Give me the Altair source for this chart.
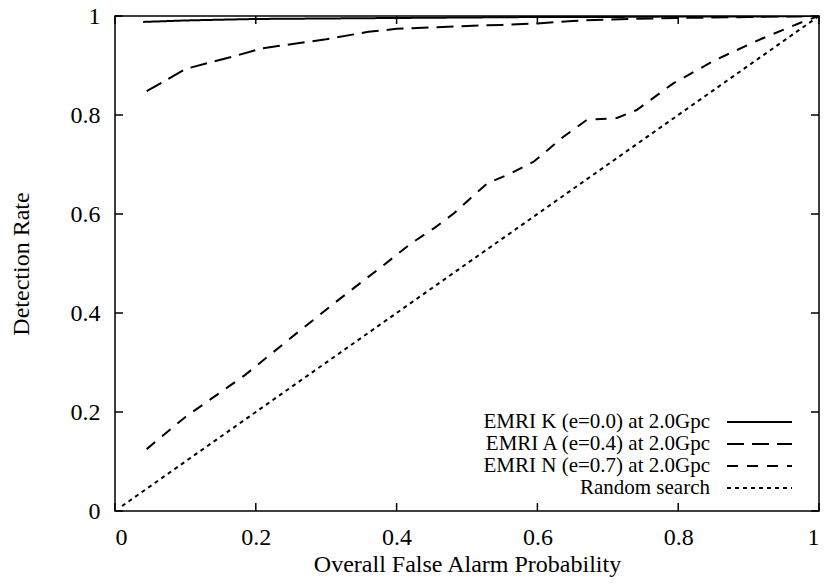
import altair as alt
import pandas as pd

# ---- data ----
k_x = [0.04, 0.1, 0.2, 0.3, 0.4, 0.5, 0.6, 0.7, 0.8, 0.9, 1.0]
k_y = [0.988, 0.991, 0.994, 0.995, 0.996, 0.997, 0.998, 0.998, 0.999, 0.999, 1.0]

a_x = [0.045, 0.1, 0.175, 0.21, 0.25, 0.3, 0.36, 0.4, 0.45, 0.5, 0.55, 0.6, 0.65, 0.7, 0.8, 0.9, 1.0]
a_y = [0.848, 0.893, 0.921, 0.935, 0.943, 0.953, 0.968, 0.974, 0.977, 0.98, 0.982, 0.985, 0.99, 0.993, 0.996, 0.998, 1.0]

n_x = [0.045, 0.1, 0.185, 0.25, 0.317, 0.38, 0.42, 0.454, 0.482, 0.505, 0.529, 0.562, 0.595, 0.637, 0.67, 0.713, 0.741, 0.793, 0.854, 0.92, 0.98, 1.0]
n_y = [0.125, 0.19, 0.275, 0.35, 0.426, 0.495, 0.54, 0.572, 0.602, 0.632, 0.662, 0.682, 0.706, 0.756, 0.79, 0.794, 0.81, 0.864, 0.912, 0.955, 0.99, 1.0]

r_x = [0.01, 1.0]
r_y = [0.01, 1.0]

series_names = [
    "EMRI K (e=0.0) at 2.0Gpc",
    "EMRI A (e=0.4) at 2.0Gpc",
    "EMRI N (e=0.7) at 2.0Gpc",
    "Random search",
]
dashes = [[1, 0], [17, 8], [11, 9], [4, 4]]
tick_values = [0, 0.2, 0.4, 0.6, 0.8, 1.0]

rows = []
for name, xs, ys in zip(series_names, [k_x, a_x, n_x, r_x], [k_y, a_y, n_y, r_y]):
    for i, (x, y) in enumerate(zip(xs, ys)):
        rows.append({"series": name, "x": x, "y": y, "order": i})
df = pd.DataFrame(rows)
ticks_df = pd.DataFrame({"t": tick_values})

W, H = 704, 495
FONT = "Liberation Serif"
FS = 24
LFS = 21

xscale = alt.Scale(domain=[0, 1], nice=False, zero=False)
yscale = alt.Scale(domain=[0, 1], nice=False, zero=False)

lines = alt.Chart(df).mark_line(color="black", strokeWidth=2, clip=True).encode(
    x=alt.X("x:Q", scale=xscale,
            axis=alt.Axis(values=tick_values, format="~g", title="Overall False Alarm Probability",
                          ticks=False, tickSize=0, domain=False, grid=False,
                          labelPadding=14, titleX=W / 2, titleY=53, titleBaseline="middle")),
    y=alt.Y("y:Q", scale=yscale,
            axis=alt.Axis(values=tick_values, format="~g", title="Detection Rate",
                          ticks=False, tickSize=0, domain=False, grid=False,
                          labelPadding=15, titleX=-94, titleY=H / 2, titleAngle=270,
                          titleAlign="center", titleBaseline="middle")),
    strokeDash=alt.StrokeDash("series:N", scale=alt.Scale(domain=series_names, range=dashes), legend=None),
    detail="series:N",
    order="order:Q",
)

TL = 8
tb = alt.Chart(ticks_df).mark_rule(color="black", strokeWidth=1.5).encode(
    x=alt.X("t:Q", scale=xscale), y=alt.value(H), y2=alt.value(H - TL))
tt = alt.Chart(ticks_df).mark_rule(color="black", strokeWidth=1.5).encode(
    x=alt.X("t:Q", scale=xscale), y=alt.value(0), y2=alt.value(TL))
tl = alt.Chart(ticks_df).mark_rule(color="black", strokeWidth=1.5).encode(
    y=alt.Y("t:Q", scale=yscale), x=alt.value(0), x2=alt.value(TL))
tr = alt.Chart(ticks_df).mark_rule(color="black", strokeWidth=1.5).encode(
    y=alt.Y("t:Q", scale=yscale), x=alt.value(W), x2=alt.value(W - TL))

# manual legend (labels left of samples, bottom-right inside the plot)
legend_layers = []
row_y = [406, 428, 450, 472]
for name, dash, ry in zip(series_names, dashes, row_y):
    one = pd.DataFrame({"label": [name]})
    legend_layers.append(
        alt.Chart(one).mark_text(align="right", baseline="middle", font=FONT, fontSize=LFS, color="black").encode(
            x=alt.value(595), y=alt.value(ry), text="label:N"))
    legend_layers.append(
        alt.Chart(one).mark_rule(color="black", strokeWidth=2, strokeDash=dash).encode(
            x=alt.value(612), x2=alt.value(677), y=alt.value(ry)))

chart = alt.layer(lines, tb, tt, tl, tr, *legend_layers).properties(
    width=W, height=H,
    background="white",
    autosize=alt.AutoSizeParams(type="none"),
    padding={"left": 107, "top": 8, "right": 1, "bottom": 67},
).configure_view(stroke="black", strokeWidth=1.5).configure_axis(
    labelFont=FONT, labelFontSize=FS, labelColor="black",
    titleFont=FONT, titleFontSize=FS, titleColor="black", titleFontWeight="normal",
)

chart.save("out.html", embed_options={"renderer": "svg", "actions": False})
